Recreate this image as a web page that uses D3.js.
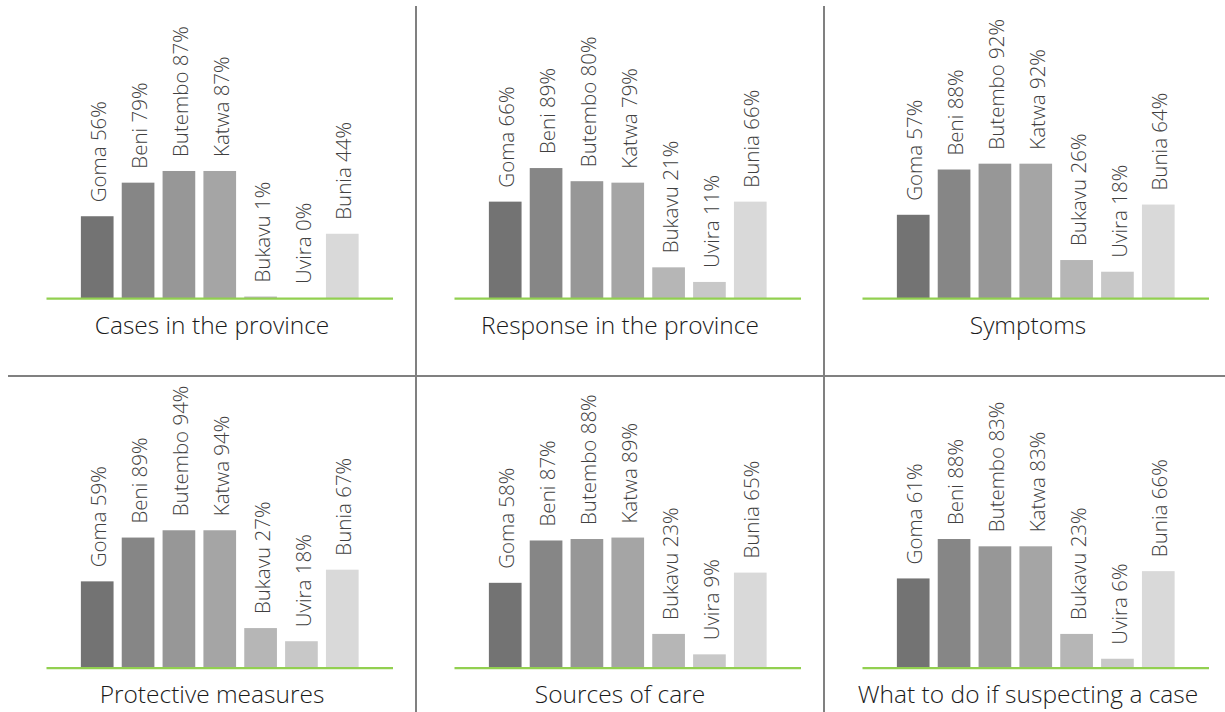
<!DOCTYPE html>
<html>
<head>
<meta charset="utf-8">
<script src="https://cdn.jsdelivr.net/npm/d3@7"></script>
<style>
  html, body { margin: 0; padding: 0; background: #ffffff; }
  svg { display: block; }
  .bar-label { font-family: "Open Sans", "Noto Sans", sans-serif; font-weight: 300; font-size: 20.5px; fill: #404040; }
  .panel-title { font-family: "Open Sans", "Noto Sans", sans-serif; font-weight: 300; font-size: 24.5px; fill: #1a1a1a; }
</style>
</head>
<body>
<svg id="chart" width="1225" height="712"></svg>
<script>
// Cities surveyed, in display order
const cities = ["Goma", "Beni", "Butembo", "Katwa", "Bukavu", "Uvira", "Bunia"];

// Share of respondents (%) per topic
const casesInProvince    = [56, 79, 87, 87, 1, 0, 44];
const responseInProvince = [66, 89, 80, 79, 21, 11, 66];
const symptoms           = [57, 88, 92, 92, 26, 18, 64];
const protectiveMeasures = [59, 89, 94, 94, 27, 18, 67];
const sourcesOfCare      = [58, 87, 88, 89, 23, 9, 65];
const whatToDo           = [61, 88, 83, 83, 23, 6, 66];

const panelTitles = [
  "Cases in the province", "Response in the province", "Symptoms",
  "Protective measures", "Sources of care", "What to do if suspecting a case"
];
const panelValues = [casesInProvince, responseInProvince, symptoms,
                     protectiveMeasures, sourcesOfCare, whatToDo];

// One grey shade per city
const cityColors = ["#737373", "#868686", "#979797", "#a5a5a5", "#b6b6b6", "#c8c8c8", "#d9d9d9"];

const svg = d3.select("#chart");

// Grid of 3 x 2 cells
const cellW = 408, cellH = 369.5;
const gridX0 = 8, gridY0 = 6;

const color = d3.scaleOrdinal().domain(cities).range(cityColors);

panelTitles.forEach((title, i) => {
  const col = i % 3, row = Math.floor(i / 3);
  const cx0 = gridX0 + col * cellW;
  const cy0 = gridY0 + row * cellH;

  const axisL = cx0 + 38.5, axisR = cx0 + 385;
  const baseY = cy0 + 292;

  const x = d3.scaleBand()
    .domain(cities)
    .range([axisL + 30.3, axisR - 30.3])
    .paddingInner(0.2)
    .paddingOuter(0.1);

  const y = d3.scaleLinear().domain([0, 100]).range([baseY, baseY - 146]);

  const g = svg.append("g").attr("class", "panel");
  const data = cities.map((c, k) => ({ city: c, value: panelValues[i][k] }));

  g.selectAll("rect.bar")
    .data(data)
    .join("rect")
    .attr("class", "bar")
    .attr("x", d => x(d.city))
    .attr("y", d => y(d.value))
    .attr("width", x.bandwidth())
    .attr("height", d => y(0) - y(d.value))
    .attr("fill", d => color(d.city));

  // Category axis line
  g.append("line")
    .attr("x1", axisL).attr("x2", axisR)
    .attr("y1", baseY + 0.6).attr("y2", baseY + 0.6)
    .attr("stroke", "#92d050").attr("stroke-width", 2.4);

  // Vertical value labels above bars
  g.selectAll("text.bar-label")
    .data(data)
    .join("text")
    .attr("class", "bar-label")
    .attr("transform", d => `translate(${x(d.city) + x.bandwidth() / 2},${y(d.value) - 14}) rotate(-90)`)
    .attr("y", 2)
    .attr("dy", "0.35em")
    .text(d => `${d.city} ${d.value}%`);

  g.append("text")
    .attr("class", "panel-title")
    .attr("x", cx0 + cellW / 2)
    .attr("y", cy0 + 327.5)
    .attr("text-anchor", "middle")
    .text(title);
});

// Separators between cells
const gridColor = "#808080";
svg.append("line")
  .attr("x1", gridX0).attr("x2", 1225)
  .attr("y1", gridY0 + cellH + 0.5).attr("y2", gridY0 + cellH + 0.5)
  .attr("stroke", gridColor).attr("stroke-width", 2);
[1, 2].forEach(k => {
  svg.append("line")
    .attr("x1", gridX0 + k * cellW).attr("x2", gridX0 + k * cellW)
    .attr("y1", gridY0).attr("y2", 712)
    .attr("stroke", gridColor).attr("stroke-width", 2);
});
</script>
</body>
</html>
